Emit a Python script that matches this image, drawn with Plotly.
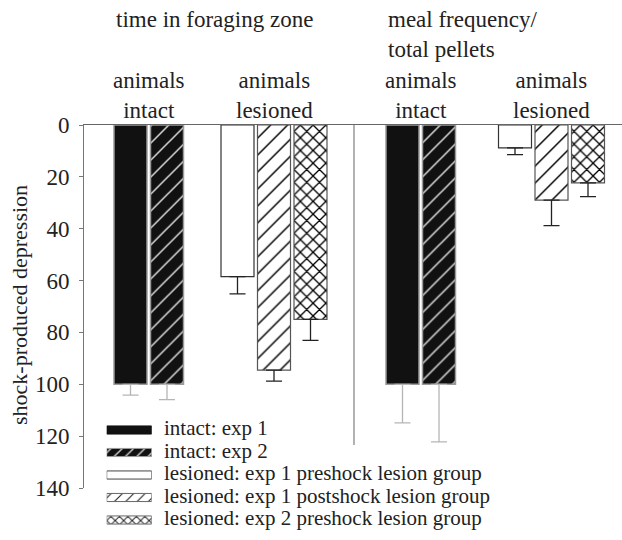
import plotly.graph_objects as go

# ---------------- data ----------------
measures = ["time in foraging zone", "meal frequency/<br>total pellets"]
group_labels = ["animals<br>intact", "animals<br>lesioned"]
series_names = [
    "intact: exp 1",
    "intact: exp 2",
    "lesioned: exp 1 preshock lesion group",
    "lesioned: exp 1 postshock lesion group",
    "lesioned: exp 2 preshock lesion group",
]
series_group = ["intact", "intact", "lesioned", "lesioned", "lesioned"]
# values per series: [time in foraging zone, meal frequency/total pellets]
intact_exp1 = [100, 100]
intact_exp2 = [100, 100]
lesioned_exp1_pre = [58.5, 8.8]
lesioned_exp1_post = [94.5, 29.0]
lesioned_exp2_pre = [75.0, 22.3]
err_intact_exp1 = [4.2, 14.9]
err_intact_exp2 = [5.9, 22.2]
err_lesioned_exp1_pre = [6.6, 2.6]
err_lesioned_exp1_post = [4.3, 9.8]
err_lesioned_exp2_pre = [8.1, 5.3]
y_ticks = [0, 20, 40, 60, 80, 100, 120, 140]
y_title = "shock-produced depression"

values = [intact_exp1, intact_exp2, lesioned_exp1_pre, lesioned_exp1_post, lesioned_exp2_pre]
errors = [err_intact_exp1, err_intact_exp2, err_lesioned_exp1_pre, err_lesioned_exp1_post, err_lesioned_exp2_pre]

# ---------------- layout constants ----------------
FONT = "Liberation Serif"
W, H = 622, 540
ML, MR, MT, MB = 84, 0, 125, 5
PW = W - ML - MR          # plot width in px (x axis uses px units)
PH = H - MT - MB
Y_BOTTOM_PX = 488         # pixel of y=140
PITCH = 36.5
BARW = 33
GSTART = {("foraging", "intact"): 46.5, ("foraging", "lesioned"): 153.5,
          ("meal", "intact"): 318.5, ("meal", "lesioned"): 431.0}
meas_keys = ["foraging", "meal"]
SEP_X = 270
SEP_Y_END = 123.4

def py(px):  # pixel row -> paper y
    return (H - MB - px) / PH

def pxx(px):  # pixel column -> paper x
    return (px - ML) / PW

styles = [
    dict(color="#111111", line="#9a9a9a", lw=1.5, pattern=None, ecol="#b5b5b5",
         lpat=None, lline="#111111"),
    dict(color="#111111", line="#9a9a9a", lw=1.5,
         pattern=dict(shape="/", bgcolor="#111111", fgcolor="#d6d6d6", size=12, solidity=0.13, fillmode="replace"),
         ecol="#b5b5b5",
         lpat=dict(shape="/", bgcolor="#111111", fgcolor="#d0d0d0", size=8, solidity=0.18, fillmode="replace"),
         lline="#9a9a9a"),
    dict(color="white", line="#333333", lw=1.2, pattern=None, ecol="#222222",
         lpat=None, lline="#444444"),
    dict(color="white", line="#555555", lw=1.2,
         pattern=dict(shape="/", bgcolor="white", fgcolor="#000000", size=12, solidity=0.12, fillmode="replace"),
         ecol="#222222",
         lpat=dict(shape="/", bgcolor="white", fgcolor="#222222", size=8, solidity=0.14, fillmode="replace"),
         lline="#666666"),
    dict(color="white", line="#555555", lw=1.2,
         pattern=dict(shape="x", bgcolor="white", fgcolor="#000000", size=9, solidity=0.27, fillmode="replace"),
         ecol="#222222",
         lpat=dict(shape="x", bgcolor="white", fgcolor="#222222", size=6, solidity=0.3, fillmode="replace"),
         lline="#666666"),
]

fig = go.Figure()

for si, name in enumerate(series_names):
    grp = series_group[si]
    idx = [i for i, g in enumerate(series_group) if g == grp].index(si)
    xs = [GSTART[(m, grp)] + idx * PITCH for m in meas_keys]
    st = styles[si]
    marker = dict(color=st["color"], line=dict(color=st["line"], width=st["lw"]))
    if st["pattern"]:
        marker["pattern"] = st["pattern"]
    fig.add_trace(go.Bar(
        x=xs, y=values[si], width=BARW, name=name, marker=marker,
        error_y=dict(type="data", array=errors[si], arrayminus=[0] * len(errors[si]),
                     symmetric=False, color=st["ecol"], thickness=1.3, width=8),
        xaxis="x", yaxis="y", showlegend=False,
    ))

# legend drawn as swatch bars on its own small axes (one trace per series)
for si, name in enumerate(series_names):
    st = styles[si]
    marker = dict(color=st["color"], line=dict(color=st["lline"], width=1))
    if st["lpat"]:
        marker["pattern"] = st["lpat"]
    fig.add_trace(go.Bar(
        y=[si], x=[1], orientation="h", width=0.36, xaxis="x2", yaxis="y2",
        name=name, showlegend=False, hoverinfo="skip", marker=marker,
    ))

annotations = []
for mi, m in enumerate(meas_keys):
    annotations.append(dict(
        text=measures[mi], xref="x", yref="paper",
        x=GSTART[(m, "intact")] - BARW / 2, y=py(5.5),
        xanchor="left", yanchor="top", align="left", showarrow=False,
        font=dict(size=23, family=FONT, color="#222")))
for m in meas_keys:
    for gi, grp in enumerate(["intact", "lesioned"]):
        n = series_group.count(grp)
        cx = GSTART[(m, grp)] + (n - 1) * PITCH / 2
        annotations.append(dict(
            text=group_labels[gi], xref="x", yref="paper", x=cx, y=py(66),
            xanchor="center", yanchor="top", align="center", showarrow=False,
            font=dict(size=23, family=FONT, color="#222")))
for si, name in enumerate(series_names):
    annotations.append(dict(
        text=name, xref="paper", yref="y2", x=pxx(162), y=si, yshift=2,
        xanchor="left", yanchor="middle", showarrow=False,
        font=dict(size=21, family=FONT, color="#222")))
annotations.append(dict(
    text=y_title, xref="paper", yref="paper", x=pxx(19), y=py(305),
    xanchor="center", yanchor="middle", textangle=-90, showarrow=False,
    font=dict(size=22, family=FONT, color="#222")))

fig.update_layout(
    width=W, height=H,
    margin=dict(l=ML, r=MR, t=MT, b=MB, autoexpand=False),
    paper_bgcolor="white", plot_bgcolor="rgba(0,0,0,0)",
    barmode="overlay", showlegend=False,
    font=dict(family=FONT, size=22, color="#222"),
    xaxis=dict(range=[0, PW], side="top", anchor="y", showline=True, linecolor="#666",
               linewidth=1, showticklabels=False, ticks="", showgrid=False, zeroline=False,
               fixedrange=True),
    yaxis=dict(range=[140, 0], domain=[py(Y_BOTTOM_PX), 1], anchor="x",
               tickvals=y_ticks, ticks="outside", ticklen=4, tickcolor="#777",
               showline=True, linecolor="#777", linewidth=1, showgrid=False, zeroline=False,
               ticklabelstandoff=5,
               tickfont=dict(size=23, family=FONT, color="#222")),
    xaxis2=dict(domain=[pxx(106.7), pxx(151.7)], range=[0, 1], anchor="y2", visible=False),
    yaxis2=dict(domain=[py(531.25), py(418.75)], range=[4.5, -0.5], anchor="x2", visible=False),
    annotations=annotations,
    shapes=[dict(type="line", xref="x", yref="y", x0=SEP_X, x1=SEP_X, y0=0, y1=SEP_Y_END,
                 line=dict(color="#999", width=1.5))],
)

fig.write_html("out.html")
